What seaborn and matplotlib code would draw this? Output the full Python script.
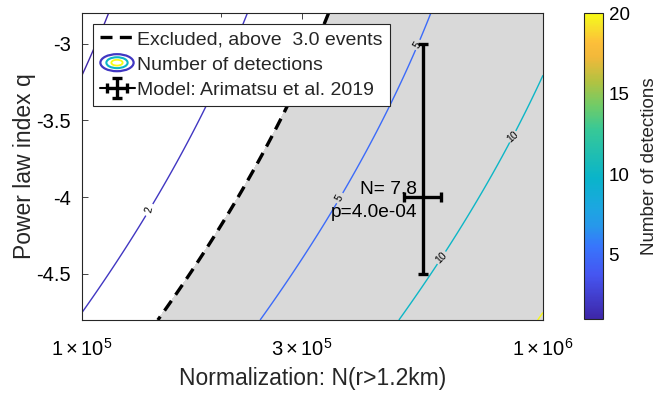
import numpy as np
import matplotlib
matplotlib.use("Agg")
import matplotlib.pyplot as plt
import seaborn as sns
from matplotlib.colors import LinearSegmentedColormap, Normalize
from matplotlib.legend_handler import HandlerBase
from matplotlib.patches import Ellipse
from matplotlib.lines import Line2D
import matplotlib.ticker as mticker

# ---------------- data ----------------
# expected detections per 1e5 objects (N(r>1.2km)) as a function of power-law index q
q_nodes = [-4.8, -4.4, -4.0, -3.6, -3.2, -2.8]
rate_per_1e5 = [2.08, 1.62, 1.40, 1.145, 1.02, 0.866]

unlabeled_levels = [1, 20]
labeled_levels = [2, 5, 10]
excluded_level = 3.0
label_positions = [(1.37e5, -4.08),
                   (5.36e5, -3.01), (3.59e5, -4.0),
                   (8.66e5, -3.63), (6.1e5, -4.42)]

model_N = 5.5e5
model_N_lo, model_N_hi = 5.0e5, 6.0e5
model_q = -4.0
model_q_lo, model_q_hi = -4.5, -3.0
model_text = "N= 7.8\np=4.0e-04"

x_ticks = [1e5, 3e5, 1e6]
x_ticklabels = [r"$1\times10^5$", r"$3\times10^5$", r"$1\times10^6$"]
y_ticks = [-4.5, -4.0, -3.5, -3.0]
y_ticklabels = ["-4.5", "-4", "-3.5", "-3"]
cbar_ticks = [5, 10, 15, 20]
cbar_range = (1.0, 20.0)

# ---------------- style ----------------
sns.set_theme(style="ticks")
plt.rcParams["font.family"] = ["Liberation Sans", "DejaVu Sans"]
plt.rcParams["mathtext.fontset"] = "custom"
plt.rcParams["mathtext.rm"] = "Liberation Sans"
plt.rcParams["mathtext.it"] = "Liberation Sans:italic"
plt.rcParams["mathtext.bf"] = "Liberation Sans:bold"

parula_pts = [
    (0 / 63, (0.2422, 0.1504, 0.6603)),
    (9 / 63, (0.2727, 0.3347, 0.9449)),
    (15 / 63, (0.2161, 0.4620, 0.9901)),
    (19 / 63, (0.1540, 0.5902, 0.9218)),
    (23 / 63, (0.1085, 0.6544, 0.8795)),
    (29 / 63, (0.0353, 0.7060, 0.7928)),
    (39 / 63, (0.2161, 0.7843, 0.5923)),
    (44 / 63, (0.4420, 0.7983, 0.4038)),
    (49 / 63, (0.7018, 0.7609, 0.2545)),
    (54 / 63, (0.9467, 0.7246, 0.2277)),
    (57 / 63, (0.9904, 0.7484, 0.2264)),
    (61 / 63, (0.9648, 0.9108, 0.1516)),
    (63 / 63, (0.9769, 0.9839, 0.0805)),
]
parula = LinearSegmentedColormap.from_list("parula", parula_pts, N=256)
norm = Normalize(*cbar_range)

dark = (0.15, 0.15, 0.15)

fig = plt.figure(figsize=(6.59, 3.93), dpi=100)
ax = fig.add_axes([82 / 659, 1 - 320 / 393, 461 / 659, 307 / 393])
cax = fig.add_axes([584 / 659, 1 - 319 / 393, 19 / 659, 306 / 393])

# ---------------- field ----------------
Ng = np.logspace(5, 6, 400)
qg = np.linspace(-4.8, -2.8, 400)
coef = np.polyfit(q_nodes, np.log(rate_per_1e5), 2)
rate_q = np.exp(np.polyval(coef, qg))
NN, QQ = np.meshgrid(Ng, qg)
Z = (NN / 1e5) * rate_q[:, None]

ax.contourf(NN, QQ, Z, levels=[excluded_level, Z.max() + 1], colors=["#d9d9d9"])
ax.contour(NN, QQ, Z, levels=unlabeled_levels, cmap=parula, norm=norm,
           linewidths=1.0)
cs = ax.contour(NN, QQ, Z, levels=labeled_levels, cmap=parula, norm=norm,
                linewidths=1.0)
ax.contour(NN, QQ, Z, levels=[excluded_level], colors="black",
           linewidths=2.4, linestyles=[(0, (3.6, 2.2))])

ax.clabel(cs, manual=label_positions, inline=True,
          fontsize=7.5, colors="black", fmt="%g", inline_spacing=3)

eb = ax.errorbar([model_N], [model_q],
                 xerr=[[model_N - model_N_lo], [model_N_hi - model_N]],
                 yerr=[[model_q - model_q_lo], [model_q_hi - model_q]],
                 fmt="-", color="black", ecolor="black", elinewidth=2.4,
                 capsize=3.5, capthick=2.4, label="Model: Arimatsu et al. 2019")

ax.text(5.33e5, -4.025, model_text, ha="right", va="center", ma="right",
        fontsize=13.8, color="black", linespacing=1.45)

ax.set_xscale("log")
ax.set_xlim(1e5, 1e6)
ax.set_ylim(-4.8, -2.8)
ax.xaxis.set_major_locator(mticker.FixedLocator(x_ticks))
ax.xaxis.set_major_formatter(mticker.FixedFormatter(x_ticklabels))
ax.xaxis.set_minor_locator(mticker.FixedLocator([2e5, 4e5, 5e5, 6e5, 7e5, 8e5, 9e5]))
ax.xaxis.set_minor_formatter(mticker.NullFormatter())
ax.set_yticks(y_ticks)
ax.set_yticklabels(y_ticklabels)
ax.tick_params(which="both", direction="in", top=True, right=True,
               colors=dark, labelcolor="black", labelsize=14.5, width=0.6)
ax.tick_params(which="major", length=4.5, pad=8)
ax.tick_params(which="minor", length=2.8)
ax.tick_params(axis="x", which="major", pad=13)
for s in ax.spines.values():
    s.set_visible(True)
    s.set_color(dark)
    s.set_linewidth(0.8)
ax.set_xlabel("Normalization: N(r>1.2km)", fontsize=16.5, color=(0.15, 0.15, 0.15),
              labelpad=5)
ax.set_ylabel("Power law index q", fontsize=16.5, color=(0.15, 0.15, 0.15),
              labelpad=0.5)

# ---------------- legend ----------------
class ContourProxy:
    pass


class ContourHandler(HandlerBase):
    def create_artists(self, legend, orig_handle, xdescent, ydescent, width,
                       height, fontsize, trans):
        cx = width / 2 - xdescent
        cy = height / 2 - ydescent
        arts = []
        for frac, lev, lw in [(1.0, 2, 1.6), (0.64, 10, 1.5), (0.34, 20, 1.3)]:
            e = Ellipse((cx, cy), width * 0.95 * frac, height * 1.25 * frac,
                        fill=False, edgecolor=parula(norm(lev)), lw=lw,
                        transform=trans)
            arts.append(e)
        return arts


h_excl = Line2D([], [], color="black", lw=2.4, linestyle=(0, (3.6, 2.2)))
leg = ax.legend([h_excl, ContourProxy(), eb],
                ["Excluded, above  3.0 events", "Number of detections",
                 "Model: Arimatsu et al. 2019"],
                handler_map={ContourProxy: ContourHandler()},
                loc="upper left", bbox_to_anchor=(0.0, 1.0),
                borderaxespad=0.55, fontsize=14, handlelength=1.8,
                handletextpad=0.15, labelspacing=0.4, borderpad=0.35,
                frameon=True, fancybox=False, framealpha=1, edgecolor=dark)
leg.get_frame().set_linewidth(0.8)

# ---------------- colorbar ----------------
sm = matplotlib.cm.ScalarMappable(norm=norm, cmap=parula)
cb = fig.colorbar(sm, cax=cax)
cb.set_ticks(cbar_ticks)
cb.ax.tick_params(direction="in", length=4, width=0.6, colors=dark,
                  labelcolor="black", labelsize=13.5, pad=4)
cb.outline.set_edgecolor(dark)
cb.outline.set_linewidth(0.8)
cb.set_label("Number of detections", fontsize=13.5, color=(0.15, 0.15, 0.15),
             labelpad=8)

fig.savefig("out.png", dpi=100)
